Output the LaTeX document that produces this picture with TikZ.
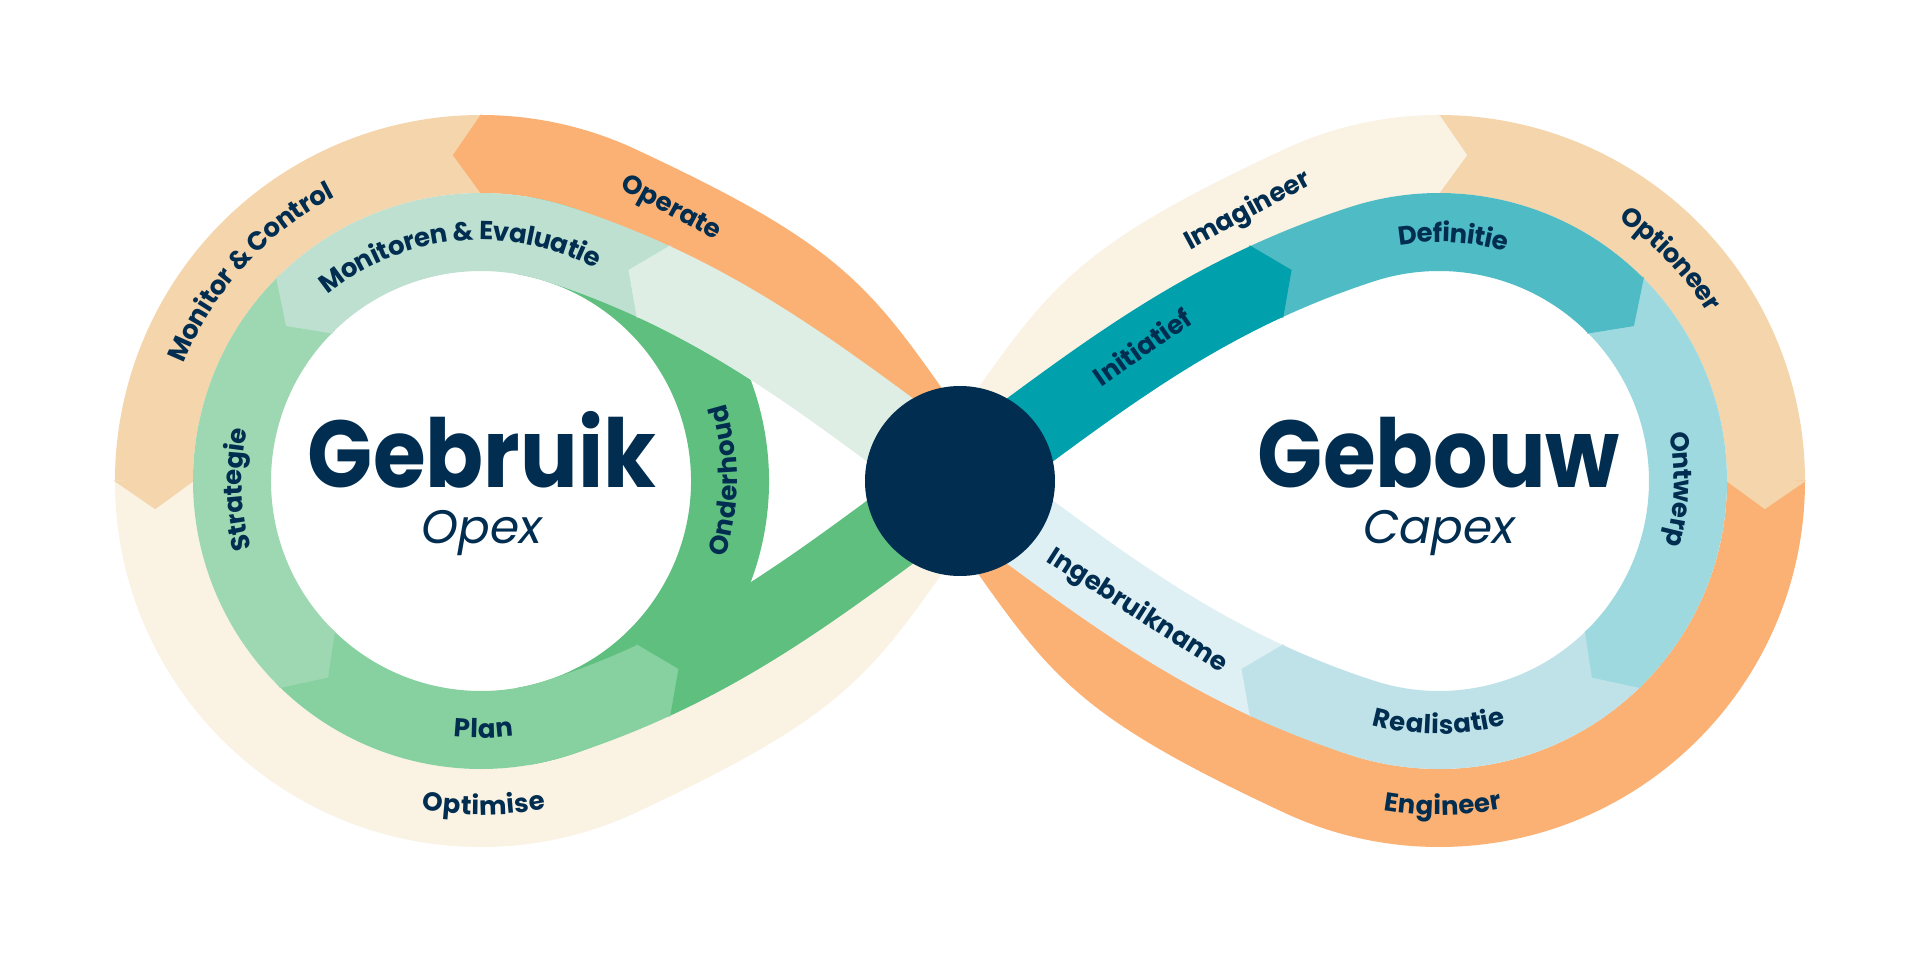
\documentclass[tikz,border=0pt]{standalone}
\usepackage{fontspec}
\newfontfamily\pop{Poppins}
\usetikzlibrary{decorations.text,calc}
\definecolor{cOrange}{HTML}{FBB174}
\definecolor{cPeach}{HTML}{F5D5AC}
\definecolor{cCream}{HTML}{FAF2E3}
\definecolor{cLight}{HTML}{DEEEE4}
\definecolor{cMonit}{HTML}{BDE0D0}
\definecolor{cStrat}{HTML}{9ED8B2}
\definecolor{cPlan}{HTML}{87D09F}
\definecolor{cOnder}{HTML}{5EBF7F}
\definecolor{cIniti}{HTML}{00A0AD}
\definecolor{cDefin}{HTML}{4FBBC5}
\definecolor{cOntw}{HTML}{9DD9DF}
\definecolor{cReali}{HTML}{BFE2E9}
\definecolor{cIngeb}{HTML}{DFF0F4}
\definecolor{cNavy}{HTML}{002D50}
\newcommand\lblfont{\pop\bfseries\fontsize{26}{30}\selectfont\color{cNavy}}
\begin{document}
\begin{tikzpicture}[x=1pt,y=1pt,
  band/.style={line width=78pt},
  chev/.style={line width=0.8pt},
  arclabel/.style={decorate, decoration={text along path, text align=center, raise=-8pt, text={|\lblfont|#1}}},
  lblnode/.style={font=\pop\bfseries\fontsize{26}{30}\selectfont, text=cNavy, inner sep=0pt, text height=17pt, text depth=0pt},
  bigtext/.style={font=\pop\bfseries\fontsize{95}{100}\selectfont, text=cNavy, inner sep=0pt, anchor=base, xscale=0.9},
  subtext/.style={font=\pop\itshape\fontsize{47}{50}\selectfont, text=cNavy, inner sep=0pt, anchor=base}]
\useasboundingbox (-960,-483) rectangle (960,481);
\fill[white] (-960,-483) rectangle (960,481);
\coordinate (CL) at (-479,0);
\coordinate (CR) at (479,0);
\coordinate (N) at (0,0);

% ---------- outer band, left loop ----------
\draw[band, cCream] ([shift={(179:327)}]CL) arc[start angle=179,end angle=295,radius=327] .. controls (-114.3,-190.6) and (-117.6,-161.8) .. (N);
\draw[band, cPeach] ([shift={(89:327)}]CL) arc[start angle=89,end angle=180,radius=327];
\filldraw[chev, cPeach] ([shift={(180:288)}]CL) -- ([shift={(184.85:327)}]CL) -- ([shift={(180:366)}]CL) -- cycle;
\draw[band, cOrange] (N) .. controls (-117.6,161.8) and (-114.3,190.6) .. (-340.8,296.36) arc[start angle=65,end angle=90,radius=327];
\filldraw[chev, cOrange] ([shift={(90:288)}]CL) -- ([shift={(94.85:327)}]CL) -- ([shift={(90:366)}]CL) -- cycle;

% ---------- outer band, right loop ----------
\draw[band, cOrange] ([shift={(1:327)}]CR) arc[start angle=1,end angle=-115,radius=327] .. controls (114.3,-190.6) and (117.6,-161.8) .. (N);
\draw[band, cPeach] ([shift={(91:327)}]CR) arc[start angle=91,end angle=0,radius=327];
\filldraw[chev, cPeach] ([shift={(0:288)}]CR) -- ([shift={(-4.85:327)}]CR) -- ([shift={(0:366)}]CR) -- cycle;
\draw[band, cCream] (N) .. controls (117.6,161.8) and (114.3,190.6) .. (340.8,296.36) arc[start angle=115,end angle=90,radius=327];
\filldraw[chev, cCream] ([shift={(90:288)}]CR) -- ([shift={(85.15:327)}]CR) -- ([shift={(90:366)}]CR) -- cycle;

% ---------- inner band, left loop ----------
\draw[band, cOnder] ([shift={(-80:249)}]CL) arc[start angle=-80,end angle=80,radius=249];
\draw[band, cOnder] (-308.40,-200.31) -- (-306.58,-199.47) .. controls (-188.0,-144.77) and (-100.64,-72) .. (N);
\draw[band, cPlan] ([shift={(224.8:249)}]CL) arc[start angle=224.8,end angle=288,radius=249] .. controls (-367.81,-225.69) and (-336.22,-213.14) .. (-306.58,-199.47);
\filldraw[chev, cPlan] (-290.24,-234.88) -- (-282.06,-188.16) -- (-322.92,-164.06) -- cycle;
\draw[band, cStrat] ([shift={(134.2:249)}]CL) arc[start angle=134.2,end angle=225.8,radius=249];
\filldraw[chev, cStrat] ([shift={(225.8:210)}]CL) -- ([shift={(232:249)}]CL) -- ([shift={(225.8:288)}]CL) -- cycle;
\draw[band, cMonit] (-304.76,198.63) -- (-306.58,199.47) .. controls (-336.22,213.14) and (-367.81,225.69) .. (-402.05,236.81) arc[start angle=72,end angle=135.2,radius=249];
\filldraw[chev, cMonit] ([shift={(135.2:210)}]CL) -- ([shift={(141.4:249)}]CL) -- ([shift={(135.2:288)}]CL) -- cycle;
\draw[band, cLight] (N) .. controls (-100.64,72) and (-188.0,144.77) .. (-306.58,199.47);
\filldraw[chev, cLight] (-290.24,234.88) -- (-331.10,210.78) -- (-322.92,164.06) -- cycle;

% ---------- inner band, right loop ----------
\draw[band, cIngeb] (308.40,-200.31) -- (306.58,-199.47) .. controls (188.0,-144.77) and (100.64,-72) .. (N);
\draw[band, cReali] ([shift={(-44.8:249)}]CR) arc[start angle=-44.8,end angle=-108,radius=249] .. controls (367.81,-225.69) and (336.22,-213.14) .. (306.58,-199.47);
\filldraw[chev, cReali] (290.24,-234.88) -- (282.06,-188.16) -- (322.92,-164.06) -- cycle;
\draw[band, cOntw] ([shift={(45.8:249)}]CR) arc[start angle=45.8,end angle=-45.8,radius=249];
\filldraw[chev, cOntw] ([shift={(-45.8:210)}]CR) -- ([shift={(-52:249)}]CR) -- ([shift={(-45.8:288)}]CR) -- cycle;
\draw[band, cDefin] (304.76,198.63) -- (306.58,199.47) .. controls (336.22,213.14) and (367.81,225.69) .. (402.05,236.81) arc[start angle=108,end angle=44.8,radius=249];
\filldraw[chev, cDefin] ([shift={(44.8:210)}]CR) -- ([shift={(38.6:249)}]CR) -- ([shift={(44.8:288)}]CR) -- cycle;
\draw[band, cIniti] (N) .. controls (100.64,72) and (188.0,144.77) .. (306.58,199.47);
\filldraw[chev, cIniti] (290.24,234.88) -- (331.10,210.78) -- (322.92,164.06) -- cycle;

% ---------- hub ----------
\node[circle, fill=cNavy, minimum size=190pt, inner sep=0pt] (hub) at (N) {};

% ---------- curved labels ----------
\path[arclabel={Monitoren {\&} Evaluatie}] ([shift={(145.5:249)}]CL) arc[start angle=145.5,end angle=45.5,radius=249];
\path[arclabel={Monitor {\&} Control}] ([shift={(182.8:327)}]CL) arc[start angle=182.8,end angle=92.8,radius=327];
\path[arclabel={Strategie}] ([shift={(222:247)}]CL) arc[start angle=222,end angle=142,radius=247];
\path[arclabel={Plan}] ([shift={(230.6:249)}]CL) arc[start angle=230.6,end angle=310.6,radius=249];
\path[arclabel={Optimise}] ([shift={(225.5:326)}]CL) arc[start angle=225.5,end angle=315.5,radius=326];
\path[arclabel={Onderhoud}] ([shift={(-45:248)}]CL) arc[start angle=-45,end angle=45,radius=248];
\path[arclabel={Definitie}] ([shift={(131.6:247)}]CR) arc[start angle=131.6,end angle=41.6,radius=247];
\path[arclabel={Optioneer}] ([shift={(88.8:325)}]CR) arc[start angle=88.8,end angle=-1.2,radius=325];
\path[arclabel={Ontwerp}] ([shift={(43:243)}]CR) arc[start angle=43,end angle=-47,radius=243];
\path[arclabel={Realisatie}] ([shift={(225:245)}]CR) arc[start angle=225,end angle=315,radius=245];
\path[arclabel={Engineer}] ([shift={(225.7:326)}]CR) arc[start angle=225.7,end angle=315.7,radius=326];

% ---------- straight labels ----------
\node[lblnode, rotate=-28.5] (operate) at (-288,274) {Operate};
\node[lblnode, rotate=28.5] (imagineer) at (287,271) {Imagineer};
\node[lblnode, rotate=35] (initiatief) at (183,133) {Initiatief};
\node[lblnode, rotate=-32.6] (ingebruikname) at (178,-129) {Ingebruikname};

% ---------- titles ----------
\node[bigtext] (gebruik) at (-478,-6.6) {Gebruik};
\node[subtext] (opex) at (-478,-62.8) {Opex};
\node[bigtext] (gebouw) at (479,-6.6) {Gebouw};
\node[subtext] (capex) at (479,-62.7) {Capex};
\end{tikzpicture}
\end{document}
